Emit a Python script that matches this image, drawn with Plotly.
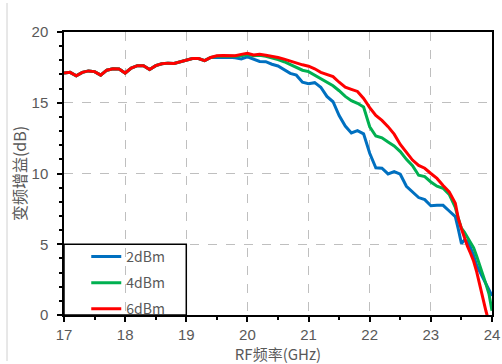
import plotly.graph_objects as go

freq = [17.0, 17.1, 17.2, 17.3, 17.4, 17.5, 17.6, 17.7, 17.8, 17.9,
        18.0, 18.1, 18.2, 18.3, 18.4, 18.5, 18.6, 18.7, 18.8, 18.9,
        19.0, 19.1, 19.2, 19.3, 19.4, 19.5, 19.6, 19.7, 19.8, 19.9,
        20.0, 20.1, 20.2, 20.3, 20.4, 20.5, 20.6, 20.7, 20.8, 20.9,
        21.0, 21.1, 21.2, 21.3, 21.4, 21.5, 21.6, 21.7, 21.8, 21.9,
        22.0, 22.1, 22.2, 22.3, 22.4, 22.5, 22.6, 22.7, 22.8, 22.9,
        23.0, 23.1, 23.2, 23.3, 23.4, 23.45, 23.5, 23.55, 23.6, 23.65,
        23.7, 23.75, 23.8, 23.85, 23.9, 23.95, 24.0]

base_low = [17.10, 17.15, 16.90, 17.15, 17.25, 17.20, 16.95, 17.30, 17.40, 17.38,
            17.10, 17.45, 17.62, 17.62, 17.35, 17.62, 17.75, 17.80, 17.78, 17.88,
            17.98, 18.12, 18.12, 17.98, 18.20, 18.28]

gain_2dbm = base_low[:-1] + [18.22,
             18.25, 18.22, 18.18, 18.10,
             18.25, 18.10, 17.92, 17.90, 17.72, 17.60, 17.35, 17.08, 16.95, 16.45,
             16.35, 16.42, 16.10, 15.45, 15.07, 14.10, 13.35, 12.87, 13.03, 12.80,
             11.43, 10.40, 10.37, 9.97, 10.13, 9.95, 9.10, 8.70, 8.30, 8.15,
             7.72, 7.75, 7.75, 7.35, 6.95, 6.05, 5.05, 5.30, 5.20, 4.75,
             4.20, 3.50, 3.05, 2.65, 2.20, 1.80, 1.35]

gain_4dbm = base_low + [18.30, 18.28, 18.28, 18.32,
             18.40, 18.32, 18.35, 18.28, 18.18, 18.05, 17.90, 17.70, 17.45, 17.30,
             17.20, 16.95, 16.70, 16.50, 16.20, 15.85, 15.45, 15.15, 14.96, 14.70,
             13.30, 12.65, 12.52, 12.22, 11.95, 11.55, 11.00, 10.55, 9.88, 9.78,
             9.40, 9.10, 8.96, 8.52, 7.60, 6.80, 6.14, 5.85, 5.50, 5.15,
             4.75, 4.15, 3.55, 2.85, 2.20, 1.50, 0.30]

gain_6dbm = base_low[:-1] + [18.32, 18.34, 18.32, 18.32, 18.42,
             18.50, 18.38, 18.42, 18.35, 18.28, 18.20, 18.08, 17.95, 17.78, 17.68,
             17.58, 17.40, 17.15, 17.00, 16.85, 16.45, 16.10, 15.95, 15.80, 15.30,
             14.65, 14.10, 13.75, 13.31, 12.78, 12.05, 11.50, 10.95, 10.57, 10.37,
             10.00, 9.65, 9.15, 8.70, 7.90, 6.80, 6.10, 5.40, 4.85, 4.35,
             3.80, 3.05, 2.10, 1.08, 0.30, -0.50, -1.30]

series = [("2dBm", gain_2dbm, "#0070C0"),
          ("4dBm", gain_4dbm, "#00B050"),
          ("6dBm", gain_6dbm, "#FF0000")]

x_ticks = [17, 18, 19, 20, 21, 22, 23, 24]
y_ticks = [0, 5, 10, 15, 20]

fig = go.Figure()
for name, vals, col in series:
    fig.add_trace(go.Scatter(x=freq, y=vals, mode="lines", name=name, legendgroup=name,
                             line=dict(color=col, width=3), cliponaxis=True))

tickfont = dict(family="Liberation Sans, Arial, sans-serif", size=15, color="#595959")
ytitlefont = dict(family="Noto Sans CJK SC, sans-serif", size=16, color="#595959")
xtitlefont = dict(family="Noto Sans CJK SC, sans-serif", size=15, color="#595959")

fig.update_layout(
    width=502, height=364,
    margin=dict(l=64, r=10, t=32, b=49, autoexpand=False),
    paper_bgcolor="white", plot_bgcolor="white",
    showlegend=True,
    legend=dict(x=0.052, y=0.262, xanchor="left", yanchor="top",
                bgcolor="rgba(0,0,0,0)", borderwidth=0,
                font=dict(family="Noto Sans CJK SC, sans-serif", size=14, color="#595959"),
                itemwidth=30, traceorder="grouped", tracegroupgap=5),
    xaxis=dict(range=[17, 24], tickvals=x_ticks, ticktext=[str(v) for v in x_ticks],
               showgrid=True, gridcolor="#BFBFBF", griddash="dash", gridwidth=1,
               showline=True, linecolor="black", linewidth=1.5, mirror=True,
               ticks="outside", ticklen=5, tickcolor="black", tickwidth=1.5,
               minor=dict(dtick=0.5, ticks="outside", ticklen=3, tickcolor="black", showgrid=False),
               tickfont=tickfont, zeroline=False,
               title=dict(text="RF频率(GHz)", font=xtitlefont, standoff=7)),
    yaxis=dict(range=[0, 20], tickvals=y_ticks, ticktext=[str(v) for v in y_ticks],
               showgrid=True, gridcolor="#BFBFBF", griddash="dash", gridwidth=1,
               showline=True, linecolor="black", linewidth=1.5, mirror=True,
               ticks="outside", ticklen=5, tickcolor="black", tickwidth=1.5,
               minor=dict(dtick=1, ticks="outside", ticklen=3, tickcolor="black", showgrid=False),
               tickfont=tickfont, zeroline=False, ticklabelstandoff=6,
               title=dict(text="变频增益(dB)", font=ytitlefont, standoff=1)),
    shapes=[
        dict(type="rect", xref="x", yref="y", x0=17, x1=19, y0=0, y1=5,
             line=dict(color="black", width=1.5), fillcolor="rgba(0,0,0,0)", layer="above"),
        dict(type="line", xref="paper", yref="paper",
             x0=(7 - 64) / 428, x1=(7 - 64) / 428, y0=(364 - 49 - 361) / 283, y1=1 + 29 / 283,
             line=dict(color="#D0D0D0", width=1)),
    ],
)

fig.write_html("out.html")
